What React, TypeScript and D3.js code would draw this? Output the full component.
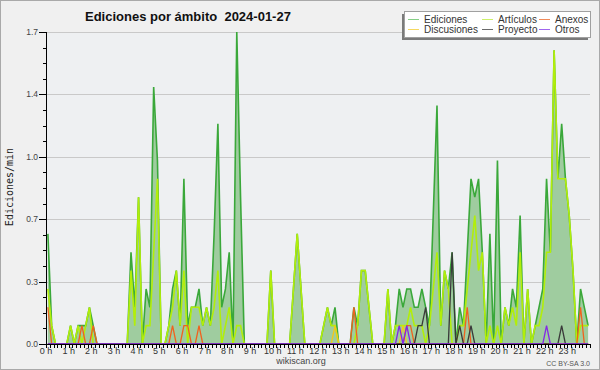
import { useEffect, useRef } from "react";
import * as d3 from "d3";

// edits per minute, one value per 10-minute slot (144 slots)
const ediciones = [
  0.6, 0.1, 0, 0, 0, 0, 0.1, 0, 0.1, 0.1, 0.1, 0.2,
  0.1, 0, 0, 0, 0, 0, 0, 0, 0, 0, 0.5, 0.2,
  0.8, 0, 0.3, 0.2, 1.4, 1.0, 0, 0, 0.1, 0.3, 0.4, 0.1,
  0.9, 0.1, 0.2, 0.2, 0.3, 0.1, 0.2, 0.1, 0.6, 1.2, 0.2, 0.3,
  0.5, 0, 1.7, 0.8, 0, 0, 0, 0, 0, 0, 0, 0.4,
  0, 0, 0, 0, 0, 0.3, 0.6, 0.3, 0, 0, 0, 0,
  0, 0.1, 0.2, 0.1, 0.2, 0, 0, 0, 0, 0.2, 0.1, 0.4,
  0.4, 0.2, 0, 0, 0, 0, 0.3, 0, 0.1, 0.3, 0.2, 0.3,
  0.3, 0.2, 0.2, 0.3, 0.2, 0.1, 0.7, 1.3, 0.1, 0.4, 0.3, 0.5,
  0, 0.2, 0.1, 0.5, 0.9, 0.8, 0.9, 0.5, 0, 0.6, 0, 1.0,
  0, 0.2, 0.1, 0.3, 0.2, 0.7, 0, 0.3, 0, 0.1, 0.2, 0.3,
  0.9, 0.5, 1.6, 0.9, 1.2, 0.9, 0.7, 0.4, 0, 0.3, 0.2, 0.1,
];

const articulos = [
  0.3, 0.1, 0, 0, 0, 0, 0.1, 0, 0.1, 0, 0.1, 0.2,
  0, 0, 0, 0, 0, 0, 0, 0, 0, 0, 0.4, 0.1,
  0.8, 0, 0.1, 0.1, 0.5, 0.9, 0, 0, 0.1, 0.2, 0.4, 0.1,
  0.4, 0, 0.2, 0.2, 0.2, 0.1, 0.2, 0.1, 0.2, 0.4, 0, 0.1,
  0.2, 0, 0.1, 0.1, 0, 0, 0, 0, 0, 0, 0, 0.4,
  0, 0, 0, 0, 0, 0.3, 0.6, 0.3, 0, 0, 0, 0,
  0, 0.1, 0.2, 0.1, 0.1, 0, 0, 0, 0, 0, 0.1, 0.4,
  0.4, 0.2, 0, 0, 0, 0, 0.3, 0, 0.1, 0.1, 0.1, 0.1,
  0.2, 0.1, 0.1, 0.1, 0, 0.1, 0.3, 0.5, 0.1, 0.4, 0.3, 0,
  0, 0.1, 0.1, 0.3, 0.5, 0.7, 0.4, 0.5, 0, 0.1, 0, 0.1,
  0, 0.2, 0.1, 0.2, 0.1, 0.5, 0, 0.3, 0, 0.1, 0.1, 0.2,
  0.5, 0.5, 1.6, 0.9, 0.9, 0.9, 0.7, 0.4, 0, 0.1, 0.1, 0.1,
];

const anexos = [
  0.2, 0, 0, 0, 0, 0, 0, 0, 0, 0.1, 0, 0,
  0.1, 0, 0, 0, 0, 0, 0, 0, 0, 0, 0, 0,
  0, 0, 0, 0, 0, 0, 0, 0, 0, 0.1, 0, 0,
  0.1, 0.1, 0, 0, 0.1, 0, 0, 0, 0, 0, 0, 0,
  0, 0, 0, 0, 0, 0, 0, 0, 0, 0, 0, 0,
  0, 0, 0, 0, 0, 0, 0, 0, 0, 0, 0, 0,
  0, 0, 0, 0, 0, 0, 0, 0, 0, 0.2, 0, 0,
  0, 0, 0, 0, 0, 0, 0, 0, 0, 0, 0, 0.1,
  0.1, 0, 0, 0, 0, 0, 0, 0, 0, 0, 0, 0,
  0, 0, 0, 0.2, 0, 0, 0, 0, 0, 0, 0, 0,
  0, 0, 0, 0, 0, 0, 0, 0, 0, 0, 0, 0,
  0, 0, 0, 0, 0, 0, 0, 0, 0, 0.2, 0, 0,
];

const discusiones = [
  0, 0, 0, 0, 0, 0, 0, 0, 0, 0, 0, 0,
  0, 0, 0, 0, 0, 0, 0, 0, 0, 0, 0, 0,
  0, 0, 0, 0, 0, 0, 0, 0, 0, 0, 0, 0,
  0, 0, 0, 0, 0, 0, 0, 0, 0, 0, 0, 0,
  0, 0, 0, 0, 0, 0, 0, 0, 0, 0, 0, 0,
  0, 0, 0, 0, 0, 0, 0, 0, 0, 0, 0, 0,
  0, 0, 0, 0, 0.1, 0, 0, 0, 0, 0, 0, 0,
  0, 0, 0, 0, 0, 0, 0, 0, 0, 0, 0.1, 0,
  0, 0, 0, 0, 0, 0, 0, 0, 0, 0, 0, 0,
  0, 0, 0, 0, 0, 0, 0, 0, 0, 0, 0, 0,
  0, 0, 0, 0, 0, 0, 0, 0, 0, 0, 0, 0,
  0, 0, 0, 0, 0, 0, 0, 0, 0, 0, 0, 0,
];

const proyecto = [
  0, 0, 0, 0, 0, 0, 0, 0, 0, 0, 0, 0,
  0, 0, 0, 0, 0, 0, 0, 0, 0, 0, 0, 0,
  0, 0, 0, 0, 0, 0, 0, 0, 0, 0, 0, 0,
  0, 0, 0, 0, 0, 0, 0, 0, 0, 0, 0, 0,
  0, 0, 0, 0, 0, 0, 0, 0, 0, 0, 0, 0,
  0, 0, 0, 0, 0, 0, 0, 0, 0, 0, 0, 0,
  0, 0, 0, 0, 0, 0, 0, 0, 0, 0, 0, 0,
  0, 0, 0, 0, 0, 0, 0, 0, 0, 0, 0, 0,
  0, 0, 0.1, 0.1, 0.2, 0, 0, 0, 0, 0, 0, 0.5,
  0, 0.1, 0, 0, 0.1, 0, 0, 0, 0, 0, 0, 0,
  0, 0, 0, 0, 0, 0, 0, 0, 0, 0, 0, 0,
  0, 0, 0, 0, 0.1, 0, 0, 0, 0, 0, 0, 0,
];

const otros = [
  0, 0, 0, 0, 0, 0, 0, 0, 0, 0, 0, 0,
  0, 0, 0, 0, 0, 0, 0, 0, 0, 0, 0, 0,
  0, 0, 0, 0, 0, 0, 0, 0, 0, 0, 0, 0,
  0, 0, 0, 0, 0, 0, 0, 0, 0, 0, 0, 0,
  0, 0, 0, 0, 0, 0, 0, 0, 0, 0, 0, 0,
  0, 0, 0, 0, 0, 0, 0, 0, 0, 0, 0, 0,
  0, 0, 0, 0, 0, 0, 0, 0, 0, 0, 0, 0,
  0, 0, 0, 0, 0, 0, 0, 0, 0, 0.1, 0, 0.1,
  0, 0, 0, 0, 0, 0, 0, 0, 0, 0, 0, 0,
  0, 0, 0, 0, 0, 0, 0, 0, 0, 0, 0, 0,
  0, 0, 0, 0, 0, 0, 0, 0, 0, 0, 0, 0,
  0.1, 0, 0, 0, 0, 0, 0, 0, 0, 0, 0, 0,
];

const yTicks = [0, 0.34, 0.68, 1.02, 1.36, 1.7];
const hourLabels = [
  "0 h", "1 h", "2 h", "3 h", "4 h", "5 h", "6 h", "7 h", "8 h", "9 h", "10 h", "11 h",
  "12 h", "13 h", "14 h", "15 h", "16 h", "17 h", "18 h", "19 h", "20 h", "21 h", "22 h", "23 h",
];

const seriesNames = ["Ediciones", "Artículos", "Anexos", "Discusiones", "Proyecto", "Otros"];
const seriesColors = ["#3aa83a", "#b2ee0a", "#f0621e", "#f2c81a", "#3a3a3a", "#8428e6"];
const legendColors = ["#86cf86", "#cdf06a", "#f08a5a", "#f5d860", "#6a6a6a", "#a066ee"];

const W = 600;
const H = 370;

export default function App() {
  const svgRef = useRef<SVGSVGElement>(null);

  useEffect(() => {
    if (!svgRef.current) return;
    const svg = d3.select(svgRef.current);
    svg.selectAll("*").remove();

    const x = d3.scaleLinear().domain([0, 24 * 60]).range([46, 590]);
    const y = d3.scaleLinear().domain([0, 1.7]).range([344, 32]);
    const slotX = (i: number) => x(i * 10 + 5);

    svg
      .append("rect")
      .attr("x", 0.5)
      .attr("y", 0.5)
      .attr("width", W - 1)
      .attr("height", H - 1)
      .attr("fill", "#f0f0f0")
      .attr("stroke", "#a9a9a9");

    svg
      .append("rect")
      .attr("x", x(0))
      .attr("y", y(1.7))
      .attr("width", x(1440) - x(0))
      .attr("height", y(0) - y(1.7))
      .attr("fill", "#eef0f2");

    // grid
    svg
      .append("g")
      .selectAll("line")
      .data(yTicks.slice(1))
      .join("line")
      .attr("x1", x(0))
      .attr("x2", x(1440))
      .attr("y1", (d) => Math.round(y(d)) + 0.5)
      .attr("y2", (d) => Math.round(y(d)) + 0.5)
      .attr("stroke", "#c9c9c9");

    const area = d3
      .area<number>()
      .x((_, i) => slotX(i))
      .y0(y(0))
      .y1((d) => y(d));

    svg.append("path").datum(ediciones).attr("fill", "#9fcc9f").attr("d", area);

    const line = d3
      .line<number>()
      .x((_, i) => slotX(i))
      .y((d) => y(d));

    const all = [ediciones, articulos, discusiones, anexos, proyecto, otros];
    const colorIdx = [0, 1, 3, 2, 4, 5];
    all.forEach((s, k) => {
      svg
        .append("path")
        .datum(s)
        .attr("fill", "none")
        .attr("stroke", seriesColors[colorIdx[k]])
        .attr("stroke-width", k < 2 ? 1.6 : 1.3)
        .attr("stroke-linejoin", "miter")
        .attr("d", line);
    });

    // y axis
    const ax = svg.append("g").attr("font-family", "Liberation Sans, Arial, sans-serif");
    ax.append("line")
      .attr("x1", 46.5)
      .attr("x2", 46.5)
      .attr("y1", y(1.7))
      .attr("y2", y(0) + 1)
      .attr("stroke", "#000");

    const minor = d3.range(0, 21).map((k) => (k * 1.7) / 20);
    ax.selectAll(".ymin")
      .data(minor)
      .join("line")
      .attr("x1", 43)
      .attr("x2", 46)
      .attr("y1", (d) => Math.round(y(d)) + 0.5)
      .attr("y2", (d) => Math.round(y(d)) + 0.5)
      .attr("stroke", "#000");

    ax.selectAll(".ymaj")
      .data(yTicks)
      .join("line")
      .attr("x1", 39)
      .attr("x2", 46)
      .attr("y1", (d) => Math.round(y(d)) + 0.5)
      .attr("y2", (d) => Math.round(y(d)) + 0.5)
      .attr("stroke", "#000");

    ax.selectAll(".ylab")
      .data(yTicks)
      .join("text")
      .attr("x", 38)
      .attr("y", (d) => y(d) + 3)
      .attr("text-anchor", "end")
      .attr("font-size", 8.5)
      .attr("fill", "#444")
      .text((d) => d3.format(".1f")(d));

    // x axis
    ax.append("line")
      .attr("x1", x(0))
      .attr("x2", x(1440))
      .attr("y1", 344.5)
      .attr("y2", 344.5)
      .attr("stroke", "#000");

    ax.selectAll(".xt")
      .data(d3.range(0, 145).map((k) => k * 10))
      .join("line")
      .attr("x1", (d) => Math.round(x(d)) + 0.5)
      .attr("x2", (d) => Math.round(x(d)) + 0.5)
      .attr("y1", 344)
      .attr("y2", 348)
      .attr("stroke", "#000");

    ax.selectAll(".xl")
      .data(hourLabels)
      .join("text")
      .attr("x", (_, i) => x(i * 60))
      .attr("y", 354)
      .attr("text-anchor", "middle")
      .attr("font-size", 9)
      .attr("fill", "#333")
      .text((d) => d);

    // y label
    svg
      .append("text")
      .attr("transform", "translate(13,187) rotate(-90)")
      .attr("text-anchor", "middle")
      .attr("font-family", "DejaVu Sans Mono, monospace")
      .attr("font-size", 10)
      .attr("fill", "#222")
      .text("Ediciones/min");

    // title
    svg
      .append("text")
      .attr("x", 85)
      .attr("y", 21)
      .attr("font-family", "Liberation Sans, Arial, sans-serif")
      .attr("font-weight", "bold")
      .attr("font-size", 13)
      .attr("fill", "#111")
      .style("white-space", "pre")
      .text("Ediciones por ámbito  2024-01-27");

    svg
      .append("text")
      .attr("x", 301)
      .attr("y", 364)
      .attr("text-anchor", "middle")
      .attr("font-family", "Liberation Sans, Arial, sans-serif")
      .attr("font-size", 9)
      .attr("fill", "#444")
      .text("wikiscan.org");

    svg
      .append("text")
      .attr("x", 590)
      .attr("y", 366)
      .attr("text-anchor", "end")
      .attr("font-family", "Liberation Sans, Arial, sans-serif")
      .attr("font-size", 7)
      .attr("fill", "#555")
      .text("CC BY-SA 3.0");

    // legend
    const lg = svg.append("g").attr("font-family", "Liberation Sans, Arial, sans-serif");
    lg.append("rect")
      .attr("x", 402)
      .attr("y", 14)
      .attr("width", 186)
      .attr("height", 26)
      .attr("fill", "#7a7a7a");
    lg.append("rect")
      .attr("x", 404.5)
      .attr("y", 11.5)
      .attr("width", 186)
      .attr("height", 26)
      .attr("fill", "#fff")
      .attr("stroke", "#a0a0a0");

    const colX = [408, 482, 539];
    const rowY = [19.5, 29.5];
    seriesNames.forEach((name, k) => {
      const col = k % 3;
      const row = Math.floor(k / 3);
      lg.append("line")
        .attr("x1", colX[col])
        .attr("x2", colX[col] + 11)
        .attr("y1", rowY[row])
        .attr("y2", rowY[row])
        .attr("stroke", legendColors[k]);
      lg.append("text")
        .attr("x", colX[col] + 16)
        .attr("y", rowY[row] + 3.5)
        .attr("font-size", 10)
        .attr("fill", "#333")
        .text(name);
    });
  }, []);

  return (
    <svg
      ref={svgRef}
      width={W}
      height={H}
      style={{ position: "absolute", left: 0, top: 0 }}
    />
  );
}
